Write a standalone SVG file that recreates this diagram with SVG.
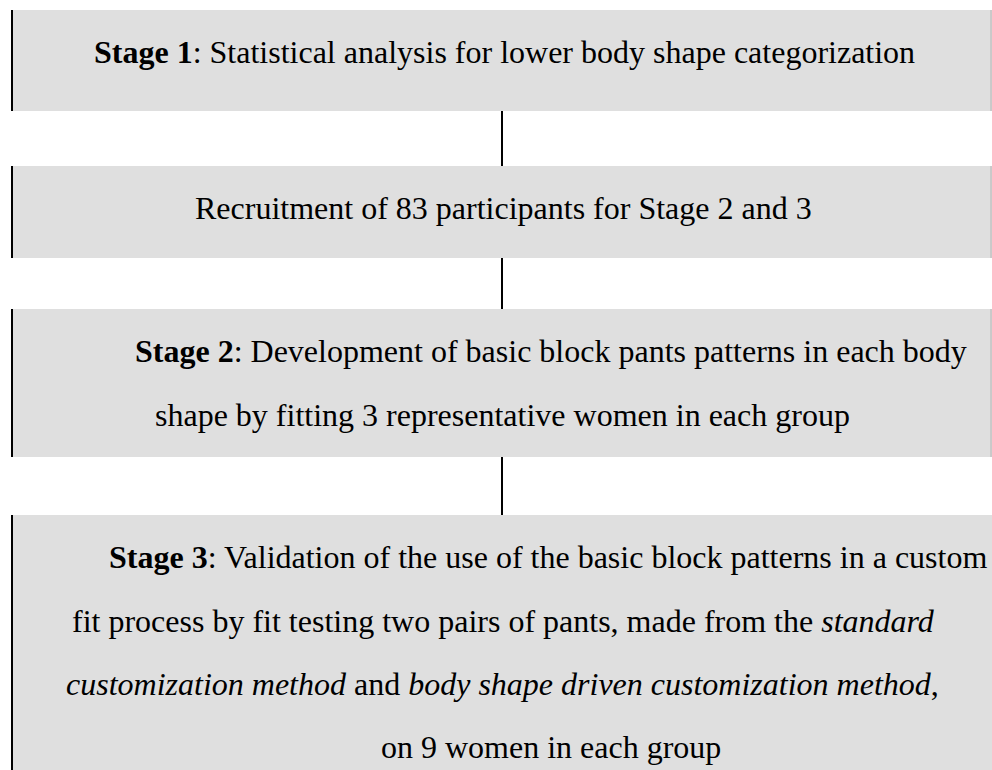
<svg xmlns="http://www.w3.org/2000/svg" width="992" height="770" viewBox="0 0 992 770">
  <style>
    .box { fill: #dfdfdf; }
    .edge { stroke: #000; stroke-width: 2; }
    .redge { stroke: #b4b4b4; stroke-width: 1; }
    .link { stroke: #000; stroke-width: 2; }
    .t { font-family: 'Liberation Serif', 'DejaVu Serif', serif; font-size: 32px; fill: #000; }
    .b { font-weight: bold; }
    .i { font-style: italic; }
  </style>
  <rect width="992" height="770" fill="#fff"/>

  <g id="connectors">
    <line class="link" x1="502" y1="111" x2="502" y2="166"/>
    <line class="link" x1="502" y1="258" x2="502" y2="309"/>
    <line class="link" x1="502" y1="457" x2="502" y2="515"/>
  </g>

  <g id="stage1">
    <rect class="box" x="12" y="10" width="980" height="101"/>
    <line class="edge" x1="12" y1="10" x2="12" y2="111"/>
    <line class="redge" x1="991" y1="10" x2="991" y2="111"/>
    <text class="t" font-family="Liberation Serif, serif" x="94" y="63"><tspan class="b">Stage 1</tspan>: Statistical analysis for lower body shape categorization</text>
  </g>

  <g id="recruitment">
    <rect class="box" x="12" y="166" width="980" height="92"/>
    <line class="edge" x1="12" y1="166" x2="12" y2="258"/>
    <line class="redge" x1="991" y1="166" x2="991" y2="258"/>
    <text class="t" font-family="Liberation Serif, serif" x="195" y="219">Recruitment of 83 participants for Stage 2 and 3</text>
  </g>

  <g id="stage2">
    <rect class="box" x="12" y="309" width="980" height="148"/>
    <line class="edge" x1="12" y1="309" x2="12" y2="457"/>
    <line class="redge" x1="991" y1="309" x2="991" y2="457"/>
    <text class="t" font-family="Liberation Serif, serif" x="135" y="362"><tspan class="b">Stage 2</tspan>: Development of basic block pants patterns in each body</text>
    <text class="t" font-family="Liberation Serif, serif" x="155" y="426">shape by fitting 3 representative women in each group</text>
  </g>

  <g id="stage3">
    <rect class="box" x="12" y="515" width="980" height="255"/>
    <line class="edge" x1="12" y1="515" x2="12" y2="770"/>
    <text class="t" font-family="Liberation Serif, serif" x="109" y="568"><tspan class="b">Stage 3</tspan>: Validation of the use of the basic block patterns in a custom</text>
    <text class="t" font-family="Liberation Serif, serif" x="72" y="632">fit process by fit testing two pairs of pants, made from the <tspan class="i">standard</tspan></text>
    <text class="t" font-family="Liberation Serif, serif" x="66" y="695"><tspan class="i">customization method</tspan> and <tspan class="i">body shape driven customization method</tspan>,</text>
    <text class="t" font-family="Liberation Serif, serif" x="381" y="758">on 9 women in each group</text>
  </g>
</svg>
